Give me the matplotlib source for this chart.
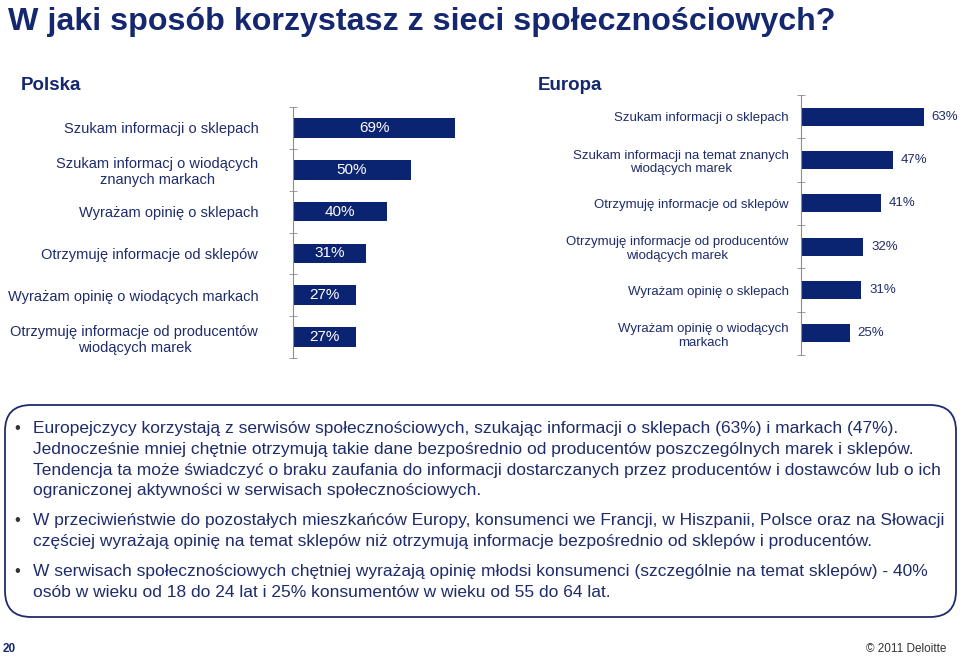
import matplotlib.pyplot as plt
from matplotlib import font_manager
from matplotlib.patches import FancyBboxPatch

names = {f.name for f in font_manager.fontManager.ttflist}
narrow = 'Liberation Sans Narrow' if 'Liberation Sans Narrow' in names else 'Liberation Sans'
plt.rcParams['font.family'] = ['Liberation Sans', 'DejaVu Sans']

navy = '#0B2472'
txt = '#1F2C6B'
grey = '#8C8C8C'

title = 'W jaki sposób korzystasz z sieci społecznościowych?'

pl_labels = ['Szukam informacji o sklepach',
             'Szukam informacj o wiodących\nznanych markach',
             'Wyrażam opinię o sklepach',
             'Otrzymuję informacje od sklepów',
             'Wyrażam opinię o wiodących markach',
             'Otrzymuję informacje od producentów\nwiodących marek']
pl_values = [69, 50, 40, 31, 27, 27]

eu_labels = ['Szukam informacji o sklepach',
             'Szukam informacji na temat znanych\nwiodących marek',
             'Otrzymuję informacje od sklepów',
             'Otrzymuję informacje od producentów\nwiodących marek',
             'Wyrażam opinię o sklepach',
             'Wyrażam opinię o wiodących\nmarkach']
eu_values = [63, 47, 41, 32, 31, 25]

bullets = [
    ['Europejczycy korzystają z serwisów społecznościowych, szukając informacji o sklepach (63%) i markach (47%).',
     'Jednocześnie mniej chętnie otrzymują takie dane bezpośrednio od producentów poszczególnych marek i sklepów.',
     'Tendencja ta może świadczyć o braku zaufania do informacji dostarczanych przez producentów i dostawców lub o ich',
     'ograniczonej aktywności w serwisach społecznościowych.'],
    ['W przeciwieństwie do pozostałych mieszkańców Europy, konsumenci we Francji, w Hiszpanii, Polsce oraz na Słowacji',
     'częściej wyrażają opinię na temat sklepów niż otrzymują informacje bezpośrednio od sklepów i producentów.'],
    ['W serwisach społecznościowych chętniej wyrażają opinię młodsi konsumenci (szczególnie na temat sklepów) - 40%',
     'osób w wieku od 18 do 24 lat i 25% konsumentów w wieku od 55 do 64 lat.'],
]

W, H = 960, 657
fig = plt.figure(figsize=(9.6, 6.57), dpi=100)
bg = fig.add_axes([0, 0, 1, 1])
bg.set_xlim(0, W)
bg.set_ylim(H, 0)
bg.axis('off')


def px_axes(x0, y0, x1, y1):
    return fig.add_axes([x0 / W, 1 - y1 / H, (x1 - x0) / W, (y1 - y0) / H])


def bar_panel(ax, labels, values, height, pad, fs, vfs, inside):
    pos = list(range(len(values)))
    bars = ax.barh(pos, values, height=height, color=navy)
    ax.set_ylim(len(values) - 0.5, -0.5)
    ax.set_xlim(0, 100)
    for s in ['top', 'right', 'bottom']:
        ax.spines[s].set_visible(False)
    ax.spines['left'].set_color(grey)
    ax.set_xticks([])
    ax.set_yticks(pos)
    ax.set_yticklabels(labels, fontsize=fs, color=txt)
    for t in ax.get_yticklabels():
        t.set_multialignment('center')
    ax.set_yticks([p - 0.5 for p in pos] + [len(pos) - 0.5], minor=True)
    ax.tick_params(axis='y', which='major', length=0, pad=pad)
    ax.tick_params(axis='y', which='minor', length=6, direction='inout', color=grey)
    for b, v in zip(bars, values):
        y = b.get_y() + b.get_height() / 2
        if inside:
            ax.text(v / 2, y, f'{v}%', ha='center', va='center', color='white', fontsize=vfs)
        else:
            ax.text(v + 4, y, f'{v}%', ha='left', va='center', color=txt, fontsize=vfs)


ax1 = px_axes(293, 107, 293 + 235, 358)
bar_panel(ax1, pl_labels, pl_values, 0.47, 25, 10.5, 11, True)

ax2 = px_axes(801, 95, 801 + 195, 355)
bar_panel(ax2, eu_labels, eu_values, 0.41, 9, 9.5, 9.5, False)

bg.text(8, 30, title, fontsize=23.2, fontweight='bold', color='#14276F', family=narrow, va='baseline')
bg.text(21, 85, 'Polska', fontsize=13.5, fontweight='bold', color='#14276F', family=narrow, va='center')
bg.text(538, 85, 'Europa', fontsize=13.5, fontweight='bold', color='#14276F', family=narrow, va='center')

box = FancyBboxPatch((5, 405), 951, 212, boxstyle='round,pad=0,rounding_size=26',
                     fc='white', ec='#1F2C6B', lw=1.3)
bg.add_patch(box)

y = 427
for para in bullets:
    bg.text(14, y, '•', fontsize=12, color='#333333', va='center_baseline')
    for line in para:
        bg.text(33, y, line, fontsize=12.5, color=txt, va='center_baseline')
        y += 20.8
    y += 9

bg.text(3, 649, '20', fontsize=8.5, fontweight='bold', color='#14276F', va='center', family=narrow)
bg.text(946, 649, '© 2011 Deloitte', fontsize=8.5, color='#333333', va='center', ha='right', family=narrow)

fig.savefig('out.png', dpi=100)
